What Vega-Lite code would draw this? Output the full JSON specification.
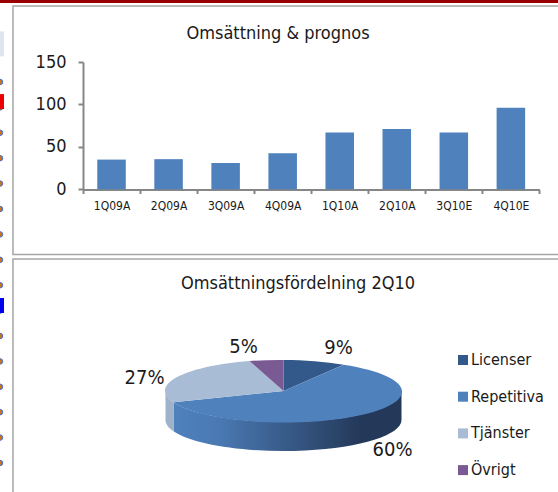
{
"$schema":"https://vega.github.io/schema/vega-lite/v6.json",
"padding":0,"background":"white","spacing":2,
"config":{"font":"DejaVu Sans Condensed","view":{"stroke":null}},
"datasets":{
"sales":[{"q":"1Q09A","v":35},{"q":"2Q09A","v":35.5},{"q":"3Q09A","v":31},{"q":"4Q09A","v":42.5},{"q":"1Q10A","v":67},{"q":"2Q10A","v":71},{"q":"3Q10E","v":67},{"q":"4Q10E","v":96}],
"mix":[{"name":"Licenser","share":0.09},{"name":"Repetitiva","share":0.60},{"name":"Tjänster","share":0.27},{"name":"Övrigt","share":0.05}],
"dots":[{"row":0},{"row":1},{"row":2},{"row":3},{"row":4},{"row":5},{"row":6},{"row":7},{"row":8},{"row":9},{"row":10},{"row":11},{"row":12},{"row":13},{"row":14},{"row":15}],
"flags":[{"row":0.77,"kind":"red"},{"row":8.8,"kind":"blue"},{"row":-1.5,"kind":"box"}]
},
"vconcat":[
{"width":558,"height":3,"data":{"values":[{"band":"top"}]},"mark":{"type":"rect","color":"#990000"},"encoding":{}},
{"spacing":0,"hconcat":[
{"width":12,"height":487,"layer":[
{"data":{"name":"dots"},"mark":{"type":"point","filled":true,"clip":true,"size":30,"opacity":1,"color":"#c8741e","stroke":"#4a6fd0","strokeWidth":1},
"encoding":{"x":{"value":0},"y":{"field":"row","type":"quantitative","axis":null,"scale":{"domain":[0,16],"range":[76,482.4]}}}},
{"data":{"name":"flags"},"transform":[{"filter":"datum.kind==='red'"}],"mark":{"type":"tick","orient":"vertical","clip":true,"color":"#ee0000","size":15,"thickness":4,"opacity":1},
"encoding":{"x":{"value":2},"y":{"field":"row","type":"quantitative","axis":null,"scale":{"domain":[0,16],"range":[76,482.4]}}}},
{"data":{"name":"flags"},"transform":[{"filter":"datum.kind==='blue'"}],"mark":{"type":"tick","orient":"vertical","clip":true,"color":"#0000ee","size":15,"thickness":4,"opacity":1},
"encoding":{"x":{"value":2},"y":{"field":"row","type":"quantitative","axis":null,"scale":{"domain":[0,16],"range":[76,482.4]}}}},
{"data":{"name":"flags"},"transform":[{"filter":"datum.kind==='box'"}],"mark":{"type":"tick","orient":"vertical","clip":true,"color":"#dfe5f0","size":25,"thickness":4,"opacity":1},
"encoding":{"x":{"value":2},"y":{"field":"row","type":"quantitative","axis":null,"scale":{"domain":[0,16],"range":[76,482.4]}}}}
]},
{"spacing":2,"vconcat":[
{"width":547,"height":248.5,"view":{"stroke":"#a6a6a6","strokeWidth":1.5},
"title":{"text":"Omsättning & prognos","fontSize":18,"fontWeight":"normal","color":"#1a1a1a","anchor":"middle","offset":-37,"dx":-8.5},
"data":{"name":"sales"},
"mark":{"type":"bar","color":"#4f81bd","width":{"band":0.5}},
"encoding":{
"x":{"field":"q","type":"nominal","sort":null,"title":null,"scale":{"type":"band","padding":0,"range":[70,526.4]},
"axis":{"orient":"bottom","offset":-65,"labelAngle":0,"labelFontSize":12,"labelColor":"#1a1a1a","tickColor":"#868686","domainColor":"#868686","domainWidth":2,"tickWidth":2,"tickSize":4,"tickBand":"extent","labelPadding":7,"grid":false}},
"y":{"field":"v","type":"quantitative","title":null,"scale":{"domain":[0,150],"range":[183.3,56],"nice":false},
"axis":{"orient":"left","offset":-70,"values":[0,50,100,150],"labelFontSize":18,"labelColor":"#1a1a1a","tickColor":"#868686","domainColor":"#868686","domainWidth":2,"tickWidth":2,"tickSize":5,"labelPadding":12,"grid":false}}
}},
{"width":547,"height":237,"view":{"stroke":"#a6a6a6","strokeWidth":1.5},
"title":{"text":"Omsättningsfördelning 2Q10","fontSize":18,"fontWeight":"normal","color":"#1a1a1a","anchor":"middle","offset":-34,"dx":11.5},
"data":{"name":"mix"},
"resolve":{"legend":{"color":"independent"}},
"layer":[
{"transform":[{"filter":"datum.name==='Repetitiva'"}],
"mark":{"type":"point","filled":true,"opacity":1,"size":4,"strokeWidth":0,
"shape":"M115,13.5 A118,31 0 0 1 -113,24.8 L-113,53.8 A118,31 0 0 0 115,42.5 Z",
"fill":{"gradient":"linear","x1":0,"y1":0,"x2":1,"y2":0,"stops":[{"offset":0,"color":"#4f81bd"},{"offset":0.2,"color":"#4a79b2"},{"offset":0.82,"color":"#24395a"},{"offset":1,"color":"#24395a"}]}},
"encoding":{}},
{"transform":[{"filter":"datum.name==='Tjänster'"}],
"mark":{"type":"point","filled":true,"opacity":1,"size":4,"strokeWidth":0,"fill":"#a0b2c9",
"shape":"M-113,24.8 A118,31 0 0 1 -121,13.5 L-121,42.5 A118,31 0 0 0 -113,53.8 Z"},
"encoding":{}},
{"mark":{"type":"point","filled":true,"opacity":1,"size":4,"strokeWidth":0},
"encoding":{
"shape":{"field":"name","type":"nominal","legend":null,"scale":{"domain":["Licenser","Repetitiva","Tjänster","Övrigt"],"range":[
"M-3,13.5 L-3,-17.5 A118,31 0 0 1 57,-12.8 Z",
"M-3,13.5 L57,-12.8 A118,31 0 1 1 -113,24.8 Z",
"M-3,13.5 L-113,24.8 A118,31 0 0 1 -37,-16.5 Z",
"M-3,13.5 L-37,-16.5 A118,31 0 0 1 -3,-17.5 Z"]}},
"color":{"field":"name","type":"nominal","legend":null,"scale":{"domain":["Licenser","Repetitiva","Tjänster","Övrigt"],"range":["#33598a","#4f81bd","#a9bcd5","#7a5a92"]}}
}},
{"mark":{"type":"point","filled":true,"size":0,"strokeWidth":0},
"encoding":{
"color":{"field":"name","type":"nominal","scale":{"domain":["Licenser","Repetitiva","Tjänster","Övrigt"],"range":["#33598a","#4f81bd","#a9bcd5","#7a5a92"]},
"legend":{"title":null,"orient":"none","legendX":442,"legendY":93,"symbolType":"square","symbolSize":100,"symbolOpacity":1,"labelFontSize":16,"labelColor":"#1a1a1a","rowPadding":20.7,"symbolStrokeWidth":0,"labelOffset":0}}
}},
{"transform":[{"filter":"datum.name==='Licenser'"}],"mark":{"type":"text","fontSize":20,"color":"#1a1a1a","dx":52,"dy":-30},"encoding":{"text":{"field":"share","format":".0%"}}},
{"transform":[{"filter":"datum.name==='Repetitiva'"}],"mark":{"type":"text","fontSize":20,"color":"#1a1a1a","dx":106,"dy":72},"encoding":{"text":{"field":"share","format":".0%"}}},
{"transform":[{"filter":"datum.name==='Tjänster'"}],"mark":{"type":"text","fontSize":20,"color":"#1a1a1a","dx":-142,"dy":0},"encoding":{"text":{"field":"share","format":".0%"}}},
{"transform":[{"filter":"datum.name==='Övrigt'"}],"mark":{"type":"text","fontSize":20,"color":"#1a1a1a","dx":-43,"dy":-31},"encoding":{"text":{"field":"share","format":".0%"}}}
]}
]}
]}
]}
